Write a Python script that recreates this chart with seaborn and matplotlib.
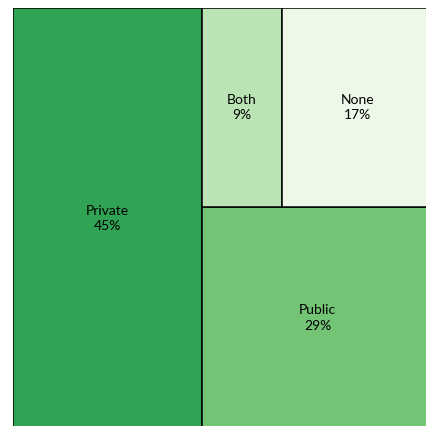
import matplotlib
matplotlib.use("Agg")
import matplotlib.pyplot as plt
import seaborn as sns
from matplotlib.patches import Rectangle

labels = ["Private", "Public", "None", "Both"]
shares = [45, 29, 17, 9]
colors = ["#31a354", "#74c476", "#edf8e9", "#bae4b3"]

sns.set_theme(style="white")
plt.rcParams["font.family"] = ["Lato", "DejaVu Sans"]

fig = plt.figure(figsize=(4.26, 4.26), dpi=100)
# the treemap runs slightly past the right and bottom edges of the picture
ax = fig.add_axes([13 / 426, -3 / 426, 420 / 426, 421 / 426])
ax.set_xlim(0, 100)
ax.set_ylim(0, 100)
ax.axis("off")

total = sum(shares)
d = dict(zip(labels, shares))
c = dict(zip(labels, colors))

# layout: Private takes a full-height column, the rest fill the right column
w_priv = 100 * d["Private"] / total
rest_w = 100 - w_priv
rest = total - d["Private"]
h_pub = 100 * d["Public"] / rest
top_h = 100 - h_pub
top = d["Both"] + d["None"]
w_both = rest_w * d["Both"] / top

rects = {
    "Private": (0, 0, w_priv, 100),
    "Public": (w_priv, 0, rest_w, h_pub),
    "Both": (w_priv, h_pub, w_both, top_h),
    "None": (w_priv + w_both, h_pub, rest_w - w_both, top_h),
}

for name, (x, y, w, h) in rects.items():
    ax.add_patch(Rectangle((x, y), w, h, facecolor=c[name],
                           edgecolor="black", linewidth=1.1))
    ax.text(x + w / 2, y + h / 2, f"{name}\n{d[name]}%", ha="center",
            va="center", fontsize=10, color="black", linespacing=1.35)

fig.savefig("out.png", dpi=100)
